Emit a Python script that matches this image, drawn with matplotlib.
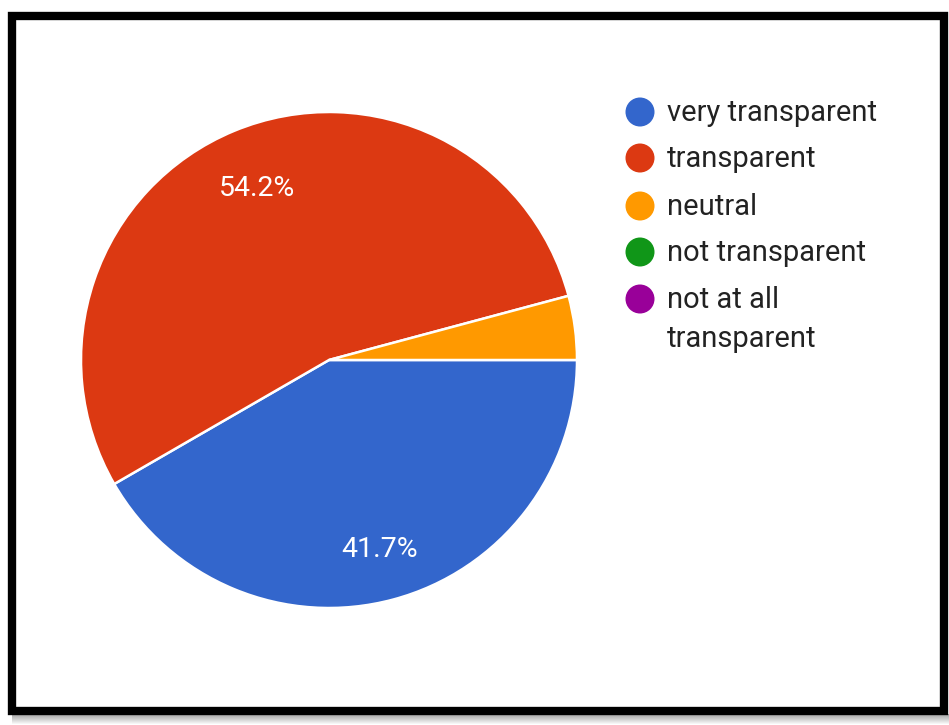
import matplotlib.pyplot as plt
from matplotlib.patches import Rectangle, Circle

# Survey answers (counts of responses)
labels = ["very transparent", "transparent", "neutral", "not transparent",
          "not at all\ntransparent"]
counts = [10, 13, 1, 0, 0]
colors = ["#3366CC", "#DC3912", "#FF9900", "#109618", "#990099"]

W, H = 949, 725
fig = plt.figure(figsize=(W / 100, H / 100), dpi=100)
fig.patch.set_facecolor("white")

# black frame + soft shadow under it
for i in range(10):
    fig.patches.append(Rectangle((12 / W, (H - 714 - i - 1) / H), 937 / W, 1 / H,
                                 transform=fig.transFigure, color="black",
                                 alpha=0.35 * (1 - i / 10), lw=0))
fig.patches.append(Rectangle((12 / W, (H - 711) / H), (944 - 12) / W, (711 - 16) / H,
                             transform=fig.transFigure, fill=False,
                             edgecolor="black", lw=6))

# pie
cx, cy, r = 329, 360, 248
ax = fig.add_axes([(cx - r) / W, (H - cy - r) / H, 2 * r / W, 2 * r / H])
nz = [(c, col) for c, col in zip(counts, colors) if c > 0]


def pct(p):
    return f"{p:.1f}%" if p > 5 else ""


wedges, texts, autotexts = ax.pie(
    [c for c, _ in nz], colors=[col for _, col in nz], startangle=0,
    counterclock=False, radius=1, autopct=pct, pctdistance=0.77,
    wedgeprops=dict(edgecolor="white", linewidth=1.8),
    textprops=dict(color="white", fontsize=20.5, family="Roboto"))
# nudge percent labels down a little
for t in autotexts:
    x, y = t.get_position()
    t.set_position((x + 0.005, y - 0.02))
ax.set_xlim(-1, 1)
ax.set_ylim(-1, 1)
ax.axis("off")

# legend
leg = fig.add_axes([0, 0, 1, 1])
leg.set_xlim(0, W)
leg.set_ylim(H, 0)
leg.axis("off")
ys = [112, 158, 206, 252, 299]
for lab, col, y in zip(labels, colors, ys):
    leg.add_patch(Circle((640, y), 14.5, color=col, lw=0))
    for k, line in enumerate(lab.split("\n")):
        leg.text(667, y + 1 + 39 * k, line, va="center",
                 fontsize=21, family="Roboto", color="#222222")

fig.savefig("out.png", dpi=100)
